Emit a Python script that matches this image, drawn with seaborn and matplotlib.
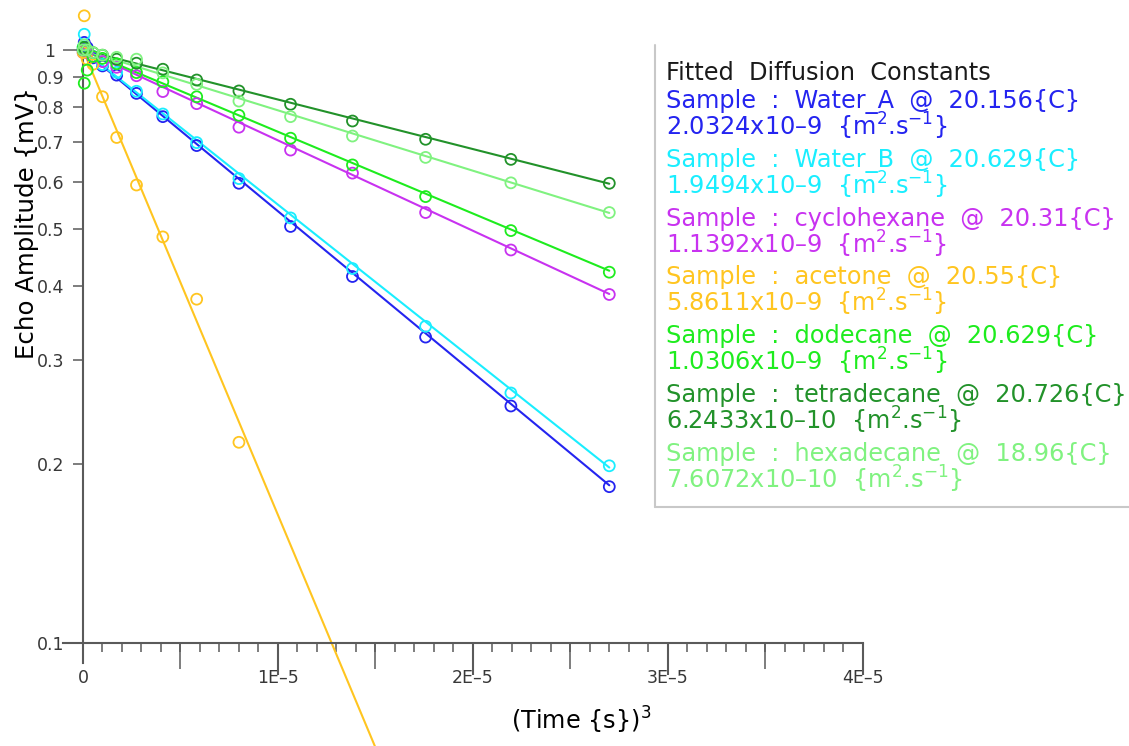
import numpy as np
import pandas as pd
import matplotlib
matplotlib.use("Agg")
import matplotlib.pyplot as plt
from matplotlib.lines import Line2D
from matplotlib.ticker import FixedLocator, FixedFormatter, MultipleLocator, NullLocator
import seaborn as sns

# Echo times (s); the abscissa is time cubed
echo_times = [0.002, 0.004, 0.006, 0.008, 0.010, 0.012, 0.014, 0.016,
              0.018, 0.020, 0.022, 0.024, 0.026, 0.028, 0.030]

samples = ["Water_A", "Water_B", "cyclohexane", "acetone",
           "dodecane", "tetradecane", "hexadecane"]
temperatures = ["20.156", "20.629", "20.31", "20.55", "20.629", "20.726", "18.96"]
diffusion = [2.0324e-9, 1.9494e-9, 1.1392e-9, 5.8611e-9,
             1.0306e-9, 6.2433e-10, 7.6072e-10]
colors = ["#2424f0", "#1aeeff", "#c832f0", "#ffc520",
          "#1eec1e", "#22922a", "#80f280"]

# Echo amplitudes (mV), one list per sample
water_a = [1.00, 1.03, 1.01, 0.97, 0.94, 0.907, 0.845, 0.772, 0.690,
           0.596, 0.504, 0.415, 0.328, 0.251, 0.1835]
water_b = [1.01, 1.063, 1.00, 0.975, 0.945, 0.917, 0.852, 0.780, 0.698,
           0.607, 0.521, 0.428, 0.342, 0.264, 0.199]
cyclohexane = [0.99, 1.00, 0.99, 0.975, 0.956, 0.935, 0.905, 0.851, 0.812,
               0.741, 0.678, 0.620, 0.532, 0.460, 0.387]
acetone = [0.99, 1.142, 0.965, 0.946, 0.834, 0.712, 0.592, 0.484, 0.380, 0.218]
dodecane = [1.01, 0.879, 0.925, 0.975, 0.968, 0.948, 0.916, 0.884, 0.834,
            0.776, 0.710, 0.640, 0.566, 0.496, 0.422]
tetradecane = [1.00, 1.01, 1.00, 0.99, 0.98, 0.965, 0.95, 0.928, 0.890,
               0.853, 0.810, 0.759, 0.707, 0.654, 0.596]
hexadecane = [1.00, 1.02, 1.00, 0.99, 0.98, 0.972, 0.965, 0.915, 0.875,
              0.820, 0.772, 0.716, 0.659, 0.597, 0.532]
amplitudes = [water_a, water_b, cyclohexane, acetone,
              dodecane, tetradecane, hexadecane]

y_major = [1.0]
y_major_labels = ["1"]
y_minor = [0.1, 0.2, 0.3, 0.4, 0.5, 0.6, 0.7, 0.8, 0.9]
y_minor_labels = ["0.1", "0.2", "0.3", "0.4", "0.5", "0.6", "0.7", "0.8", "0.9"]
x_major = [1e-5, 2e-5, 3e-5, 4e-5]
x_label_locs = [0.0, 1e-5, 2e-5, 3e-5, 4e-5]
x_labels = ["0", "1E–5", "2E–5", "3E–5", "4E–5"]
x_mid = [0.5e-5, 1.5e-5, 2.5e-5, 3.5e-5]

# Constant-gradient echo attenuation: E = exp(-(2/3) gamma^2 G^2 D t^3)
GAMMA = 2.675e8      # rad s^-1 T^-1
GRADIENT = 0.02541   # T m^-1
ATTEN = (2.0 / 3.0) * GAMMA ** 2 * GRADIENT ** 2

sns.set_style("ticks")
plt.rcParams["font.family"] = ["DejaVu Sans"]
plt.rcParams["mathtext.fontset"] = "dejavusans"

W, H = 1129, 746
fig = plt.figure(figsize=(W / 100, H / 100), dpi=100)
ax = fig.add_axes([83 / W, 103 / H, 779.7 / W, 593 / H])

t3 = np.array(echo_times) ** 3
for name, amps, D, c in zip(samples, amplitudes, diffusion, colors):
    xs = np.linspace(0.0, t3[-1], 80)
    fit = pd.DataFrame({"x": xs, "y": np.exp(-ATTEN * D * xs)})
    sns.lineplot(data=fit, x="x", y="y", ax=ax, color=c, lw=1.5,
                 clip_on=False, zorder=2)
    pts = pd.DataFrame({"x": t3[:len(amps)], "y": amps})
    sns.scatterplot(data=pts, x="x", y="y", ax=ax, marker="o", s=62,
                    facecolor="none", edgecolor=c, linewidth=1.3,
                    clip_on=False, zorder=3)

ax.set_yscale("log")
ax.set_ylim(0.1, 1.0)
ax.set_xlim(0.0, 4e-5)

axis_grey = "#5a5a5a"
label_grey = "#383838"
tick_fs = 12.5
for side in ("top", "right"):
    ax.spines[side].set_visible(False)
for side in ("left", "bottom"):
    ax.spines[side].set_color(axis_grey)
    ax.spines[side].set_linewidth(1.5)
# axes overshoot each other at the origin by 20 px
ax.spines["left"].set_bounds(0.1 * 10 ** (-20 / 593), 1.0)
ax.spines["bottom"].set_bounds(-20 / 195 * 1e-5, 4e-5)

ax.yaxis.set_major_locator(FixedLocator(y_major))
ax.yaxis.set_major_formatter(FixedFormatter(y_major_labels))
ax.yaxis.set_minor_locator(FixedLocator(y_minor))
ax.yaxis.set_minor_formatter(FixedFormatter(y_minor_labels))
ax.tick_params(axis="y", which="major", length=14.4, width=1.1, pad=5.4,
               color=axis_grey, labelcolor=label_grey, labelsize=tick_fs)
ax.tick_params(axis="y", which="minor", length=7.2, width=1.1, pad=6.3,
               color=axis_grey, labelcolor=label_grey, labelsize=tick_fs)

# fine ticks every 1E-6 on the main axis
ax.xaxis.set_major_locator(NullLocator())
ax.xaxis.set_minor_locator(MultipleLocator(1e-6))
ax.tick_params(axis="x", which="minor", length=6.5, width=1.1,
               color=axis_grey)


def bottom_ticks(locs, labels, length, pad):
    sec = ax.secondary_xaxis("bottom")
    sec.set_xticks(locs, labels=labels)
    sec.tick_params(length=length, width=1.1, pad=pad, color=axis_grey,
                    labelcolor=label_grey, labelsize=tick_fs)
    sec.spines["bottom"].set_visible(False)
    return sec


# half-decade tick marks and the tick labels
bottom_ticks(x_mid, [""] * len(x_mid), 18.7, 2)
bottom_ticks(x_label_locs, x_labels, 0, 18.4)

# decade tick marks: long strokes reaching into their labels (32 px)
ax.vlines(x_major, 0.0, -32 / 593, transform=ax.get_xaxis_transform(),
          colors=axis_grey, lw=1.5, clip_on=False, zorder=5)

ax.set_ylabel("Echo Amplitude {mV}", fontsize=17.6, color="black")
ax.yaxis.set_label_coords(-0.0567, 0.708)
ax.set_xlabel("(Time {s})$^3$", fontsize=17.3, color="black")
ax.xaxis.set_label_coords(0.639, -0.1046)

# Fit summary panel
fig.add_artist(Line2D([655 / W, 655 / W], [1 - 45 / H, 1 - 507 / H],
                      transform=fig.transFigure, color="#c8c8c8", lw=1.5))
fig.add_artist(Line2D([655 / W, 1.0], [1 - 507 / H, 1 - 507 / H],
                      transform=fig.transFigure, color="#c8c8c8", lw=1.5))

tx = 666 / W
fs = 17.3
fig.text(tx, 1 - 80 / H, "Fitted  Diffusion  Constants", fontsize=fs,
         color="#1a1a1a", va="baseline")
for i, (name, T, D, c) in enumerate(zip(samples, temperatures, diffusion, colors)):
    exp10 = int(np.floor(np.log10(D)))
    mant = D / 10 ** exp10
    y1 = 108 + 58.8 * i
    y2 = 135.7 + 58.8 * i
    fig.text(tx, 1 - y1 / H, f"Sample  :  {name}  @  {T}{{C}}",
             fontsize=fs, color=c, va="baseline")
    fig.text(tx, 1 - y2 / H,
             f"{mant:.4f}x10–{-exp10}  {{m$^{{2}}$.s$^{{-1}}$}}",
             fontsize=fs, color=c, va="baseline")

fig.savefig("out.png", dpi=100)
